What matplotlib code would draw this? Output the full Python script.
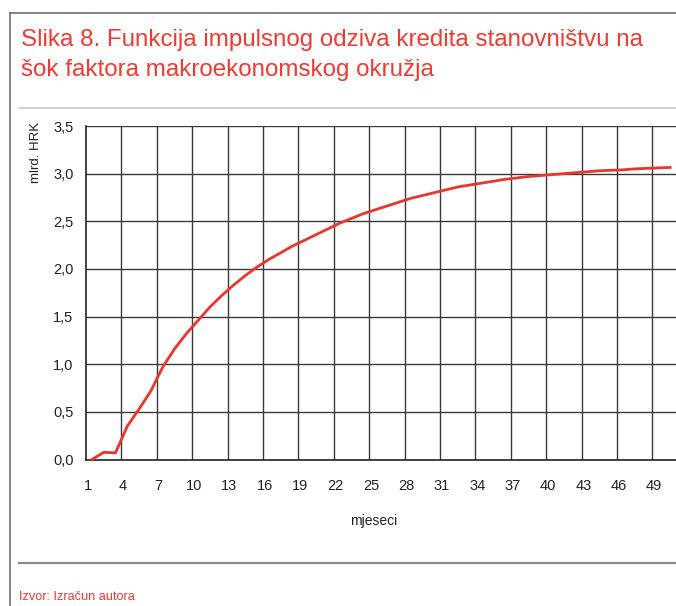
import numpy as np
import matplotlib
matplotlib.use("Agg")
import matplotlib.pyplot as plt
from matplotlib.lines import Line2D

plt.rcParams['font.family'] = ['Liberation Sans', 'DejaVu Sans']

# podaci: mjeseci 1..50, odziv kredita (mlrd. HRK)
mjeseci = list(range(1, 51))
odziv = [0.00, 0.075, 0.07, 0.35, 0.53, 0.72, 0.97, 1.16, 1.32, 1.46,
         1.60, 1.72, 1.83, 1.93, 2.02, 2.10, 2.17, 2.24, 2.30, 2.36,
         2.42, 2.48, 2.53, 2.58, 2.62, 2.66, 2.70, 2.74, 2.77, 2.80,
         2.83, 2.86, 2.88, 2.90, 2.92, 2.94, 2.955, 2.97, 2.98, 2.99,
         3.00, 3.01, 3.02, 3.03, 3.035, 3.04, 3.05, 3.055, 3.06, 3.065]
x_oznake = list(range(1, 50, 3))
y_oznake = [0.0, 0.5, 1.0, 1.5, 2.0, 2.5, 3.0, 3.5]

crvena = '#e8362d'
naslov_boja = '#ee3b33'

fig = plt.figure(figsize=(6.76, 6.06), dpi=100)
W, H = 676, 606

def fx(px):
    return px / W

def fy(py):
    return 1 - py / H

# okvir i razdjelnici
fig.add_artist(Line2D([fx(10), fx(10)], [fy(13), 0], color='#6e6e6e', lw=1.2))
fig.add_artist(Line2D([fx(10), 1], [fy(13), fy(13)], color='#6e6e6e', lw=1.2))
fig.add_artist(Line2D([fx(19), 1], [fy(108), fy(108)], color='#c8c8c8', lw=1.2))
fig.add_artist(Line2D([fx(19), 1], [fy(563), fy(563)], color='#8a8a8a', lw=1.6))

fig.text(fx(21), fy(40), "Slika 8. Funkcija impulsnog odziva kredita stanovništvu na",
         color=naslov_boja, fontsize=17.4, va='center')
fig.text(fx(21), fy(70), "šok faktora makroekonomskog okružja",
         color=naslov_boja, fontsize=17.4, va='center')
fig.text(fx(19), fy(597), "Izvor: Izračun autora", color=naslov_boja, fontsize=9.2,
         va='center')

ax = fig.add_axes([fx(86), fy(459.5), 1 - fx(86), (459.5 - 126) / H])
ax.plot(mjeseci, odziv, color=crvena, lw=2.0, zorder=3, clip_on=False)

ax.set_xlim(0.5, 50.5)
ax.set_ylim(0, 3.5)

for g in np.arange(3.5, 49, 3):
    ax.axvline(g, color='#3a3a3a', lw=1.0, zorder=1)
for v in y_oznake[1:]:
    ax.axhline(v, color='#3a3a3a', lw=1.0, zorder=1)

ax.set_xticks([t - 0.35 for t in x_oznake])
ax.set_xticklabels([str(t) for t in x_oznake])
ax.set_yticks(y_oznake)
ax.set_yticklabels([f"{v:.1f}".replace('.', ',') for v in y_oznake])
ax.tick_params(length=0, labelsize=10.5, colors='#222222')
ax.tick_params(axis='x', pad=14)
ax.tick_params(axis='y', pad=9)

for s in ['top', 'right']:
    ax.spines[s].set_visible(False)
for s in ['left', 'bottom']:
    ax.spines[s].set_color('#222222')
    ax.spines[s].set_linewidth(1.2)

fig.text(fx(36), fy(122), "mlrd. HRK", rotation=90, ha='center', va='top',
         fontsize=9.5, color='#222222')
fig.text(fx(374), fy(521), "mjeseci", ha='center', va='center', fontsize=10,
         color='#222222')

fig.savefig("out.png", dpi=100)
